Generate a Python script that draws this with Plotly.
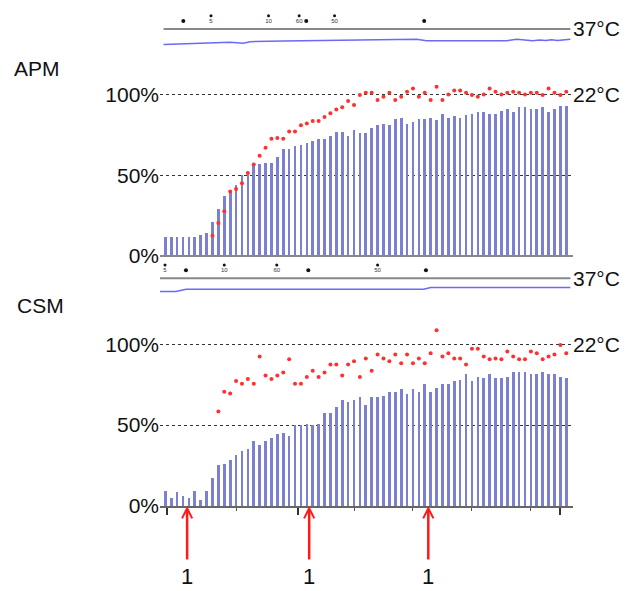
import plotly.graph_objects as go

W, H = 637, 591

# ---------------- data ----------------
bar_index = list(range(69))

apm_bars = [12, 12, 12, 12, 12, 12, 13, 14.5, 21, 29, 37, 40.5, 44, 50, 52, 56.5, 57, 57.5, 57.5,
            61, 66, 66, 68, 69, 70, 71, 72.5, 72.5, 74, 77, 77, 74, 78, 76, 76, 79, 81, 82, 81,
            84.5, 85.5, 82, 83, 84.5, 84.5, 85.5, 84, 88, 85.5, 86.5, 85.5, 87, 88, 89, 89, 88,
            88, 90, 91, 89, 92, 92, 91, 91, 92, 89, 91, 93, 93]

apm_dots = [None] * 8 + [12.6, 20.5, 27.7, 40, 41.5, 45, 51.4, 56.6, 62, 67, 72.5, 73, 72.5, 77,
                         77, 81, 82, 83.5, 83.5, 86, 88.4, 90.7, 92, 96, 93.4, 99.6, 101, 101,
                         96.5, 98.5, 101, 96.5, 98.5, 101.6, 103.7, 98.5, 101, 96.5, 104.8, 96.5,
                         100, 102.5, 102.5, 101, 99.6, 98.5, 100, 103.7, 101.6, 100, 101, 101.6,
                         101, 100, 101, 101, 99.6, 103.7, 101, 99.6, 101.6]

csm_bars = [9.4, 4.7, 8.4, 6.4, 4.7, 9.4, 3.7, 9.4, 17.2, 25.2, 26.2, 28.5, 31.4, 34, 35, 40,
            37.5, 40.2, 42.2, 44.3, 45.3, 43.4, 50, 50, 51, 50, 51, 57.2, 57.6, 61.3, 65.4,
            64.3, 65.4, 67.4, 62.7, 67.4, 67.4, 67.8, 70.3, 70.3, 72.5, 69, 72.5, 70.3, 75.2,
            70.3, 73, 75.2, 75.2, 77.5, 78, 81.6, 77.5, 80, 79, 81.4, 79, 79, 80, 82.6, 82.6,
            82.6, 81.4, 81.4, 82.6, 81.4, 81.4, 80, 79]

csm_dots = [None] * 9 + [58.4, 70.7, 69.5, 77.3, 75.6, 78.5, 75.6, 92.4, 80.7, 78.5, 80.7, 82.6,
                         90.8, 75.6, 75.6, 79.7, 83.6, 79.7, 82.6, 87.5, 87.5, 80.7, 87.5, 89.5,
                         79.7, 91.2, 83.6, 93.6, 91.2, 89.5, 93.6, 88.3, 93.6, 88.3, 91.2, 88.3,
                         94.5, 108.6, 92.4, 94.5, 91.2, 91.2, 87.5, 97.3, 97.3, 92.4, 90.8, 91.2,
                         90.8, 95.5, 92.4, 90.8, 90.8, 95.5, 94.5, 90.8, 92.4, 93.6, 99.6, 94.5]

pct_ticks = [0, 50, 100]
pct_labels = ["0%", "50%", "100%"]

ref_temp = 37
apm_ref_x = [-0.3, 68.7]
csm_ref_x = [-0.9, 68.7]

apm_temp_x = [-0.3, 11.0, 13.2, 14.4, 20.0, 39.2, 42.6, 44.3, 57.9, 59.6, 62.3, 63.5, 64.5, 65.5, 66.5, 68.7]
apm_temp_y = [36.04, 36.17, 36.11, 36.21, 36.25, 36.31, 36.36, 36.27, 36.27, 36.36, 36.27, 36.31,
              36.28, 36.33, 36.29, 36.36]
csm_temp_x = [-0.9, 1.8, 3.5, 43.8, 45.0, 68.7]
csm_temp_y = [36.17, 36.17, 36.31, 36.31, 36.42, 36.42]

apm_events = [3.05, 23.9, 43.9]
apm_doses_x = [7.75, 17.5, 22.7, 28.7]
csm_events = [3.5, 24.25, 44.2]
csm_doses_x = [-0.05, 10.0, 18.9, 36.0]
dose_labels = ["5", "10", "60", "50"]

major_ticks = [0.24, 22.45, 66.9]
minor_ticks = [12, 32, 42, 52, 62]

arrow_x = [3.7, 24.4, 44.6]
arrow_labels = ["1", "1", "1"]

# ---------------- styles ----------------
BAR_COLOR = "#7b80d1"
DOT_COLOR = "#ff3030"
FONT = "Liberation Sans, Arial, sans-serif"


def fy(p):
    return 1 - p / H


fig = go.Figure()

fig.add_trace(go.Bar(x=bar_index, y=apm_bars, width=0.45, marker=dict(color=BAR_COLOR, line=dict(width=0)),
                     xaxis="x", yaxis="y", showlegend=False))
fig.add_trace(go.Scatter(x=bar_index, y=apm_dots, mode="markers", marker=dict(color=DOT_COLOR, size=4),
                         xaxis="x", yaxis="y", showlegend=False))
fig.add_trace(go.Bar(x=bar_index, y=csm_bars, width=0.45, marker=dict(color=BAR_COLOR, line=dict(width=0)),
                     xaxis="x", yaxis="y2", showlegend=False))
fig.add_trace(go.Scatter(x=bar_index, y=csm_dots, mode="markers", marker=dict(color=DOT_COLOR, size=4),
                         xaxis="x", yaxis="y2", showlegend=False))

for yax, refx, tx, ty, ev, dx in [("y3", apm_ref_x, apm_temp_x, apm_temp_y, apm_events, apm_doses_x),
                                   ("y4", csm_ref_x, csm_temp_x, csm_temp_y, csm_events, csm_doses_x)]:
    fig.add_trace(go.Scatter(x=refx, y=[ref_temp] * len(refx), mode="lines",
                             line=dict(color="#888888", width=2), xaxis="x", yaxis=yax, showlegend=False))
    fig.add_trace(go.Scatter(x=tx, y=ty, mode="lines", line=dict(color="#6a6af5", width=1.5),
                             xaxis="x", yaxis=yax, showlegend=False))
    fig.add_trace(go.Scatter(x=ev, y=[ref_temp + 0.5] * len(ev), mode="markers",
                             marker=dict(color="#111111", size=4), xaxis="x", yaxis=yax, showlegend=False))
    fig.add_trace(go.Scatter(x=dx, y=[ref_temp + 0.83] * len(dx), mode="markers+text", text=dose_labels,
                             textposition="bottom center", textfont=dict(size=6, color="#333333"),
                             marker=dict(color="#111111", size=3), xaxis="x", yaxis=yax, showlegend=False,
                             cliponaxis=False))

ann = []
ann.append(dict(text="APM", x=37 / W, y=fy(68), xref="paper", yref="paper", showarrow=False,
                font=dict(size=21, color="#111"), xanchor="center", yanchor="middle"))
ann.append(dict(text="CSM", x=40 / W, y=fy(305), xref="paper", yref="paper", showarrow=False,
                font=dict(size=21, color="#111"), xanchor="center", yanchor="middle"))
for yref, yv, t in [("y3", ref_temp, "37°C"), ("y", 100, "22°C"), ("y4", ref_temp, "37°C"), ("y2", 100, "22°C")]:
    ann.append(dict(text=t, x=571 / W, y=yv, xref="paper", yref=yref, showarrow=False,
                    font=dict(size=21, color="#111"), xanchor="left", yanchor="middle"))
for xv, lab in zip(arrow_x, arrow_labels):
    ann.append(dict(text="", x=xv, y=0, xref="x", yref="y2", ax=0, ay=55, showarrow=True,
                    arrowhead=5, arrowsize=0.8, arrowwidth=2.5, arrowcolor="#ff1a1a", standoff=0))
    ann.append(dict(text=lab, x=xv, y=0, xref="x", yref="y2", showarrow=False, yshift=-70,
                    font=dict(size=22, color="#111"), xanchor="center", yanchor="middle"))

yaxis_common = dict(tickmode="array", tickvals=pct_ticks, ticktext=pct_labels, ticks="",
                    showgrid=True, gridcolor="#333333", griddash="dot", gridwidth=1,
                    tickfont=dict(size=21, color="#111"), anchor="x", showline=False,
                    fixedrange=True, automargin=False)

fig.update_layout(
    width=W, height=H, autosize=False,
    margin=dict(l=0, r=0, t=0, b=0, pad=0),
    paper_bgcolor="white", plot_bgcolor="white",
    font=dict(family=FONT),
    bargap=0,
    showlegend=False,
    xaxis=dict(domain=[160 / W, 573.3 / W], range=[-0.9, 69.19], anchor="y2", automargin=False,
               showline=True, linecolor="#666666", linewidth=2,
               tickmode="array", tickvals=major_ticks, ticks="outside", ticklen=7, tickwidth=2,
               tickcolor="#333333", showticklabels=False, showgrid=False, zeroline=False,
               minor=dict(tickvals=minor_ticks, ticks="outside", ticklen=3, tickwidth=1,
                          tickcolor="#555555", showgrid=False)),
    yaxis=dict(domain=[fy(256), fy(82)], range=[0, 107.7], zeroline=True, zerolinecolor="#888888",
               zerolinewidth=2, **yaxis_common),
    yaxis2=dict(domain=[fy(506), fy(320)], range=[0, 115], zeroline=False, **yaxis_common),
    yaxis3=dict(domain=[fy(50), fy(12)], range=[35.69, 38.06], visible=False, anchor="x", automargin=False),
    yaxis4=dict(domain=[fy(300), fy(262)], range=[35.644, 38.019], visible=False, anchor="x", automargin=False),
    annotations=ann,
)

fig.write_html("out.html", config={"displayModeBar": False},
               post_script="document.body.style.margin='0';document.body.style.padding='0';"
                           "document.body.style.overflow='hidden';")
